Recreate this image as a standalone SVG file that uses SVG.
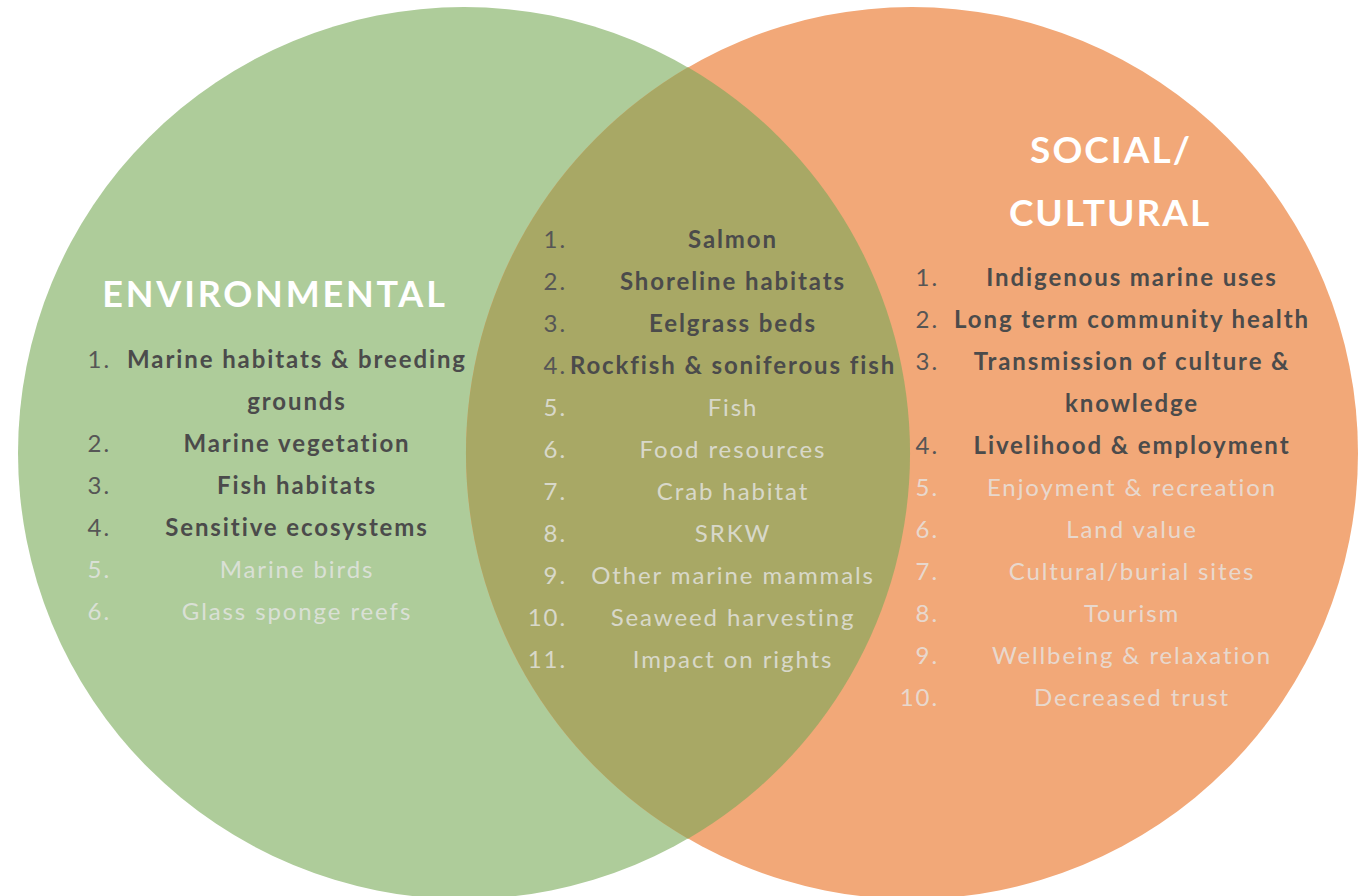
<svg xmlns="http://www.w3.org/2000/svg" width="1369" height="896" viewBox="0 0 1369 896">
<style>
.t{font-family:Lato,"Open Sans","Liberation Sans",sans-serif;font-size:24px;letter-spacing:1.9px}
.c{text-anchor:middle}
.n{text-anchor:end;font-weight:400}
.b{font-weight:700;fill:#4b4b4b}
.nd{fill:#565656}
.l{font-weight:400;fill:#e6e6e6;fill-opacity:0.8}
.h{font-family:Lato,"Open Sans","Liberation Sans",sans-serif;font-weight:700;fill:#ffffff;text-anchor:middle}
</style>
<rect width="1369" height="896" fill="#ffffff"/>
<g id="environmental">
<circle cx="464" cy="453" r="446" fill="#aecc9a"/>
</g>
<g id="social-cultural">
<circle cx="912" cy="453" r="446" fill="#f2a878"/>
</g>
<g id="overlap">
<path d="M688 67.3 A446 446 0 0 1 688 838.7 A446 446 0 0 1 688 67.3 Z" fill="#a8a865"/>
</g>
<g id="env-text">
<text class="h" x="275" y="307" font-size="36" letter-spacing="2.8">ENVIRONMENTAL</text>
<text class="t n nd" x="111" y="368">1.</text>
<text class="t c b" x="297" y="368">Marine habitats &amp; breeding</text>
<text class="t c b" x="297" y="410">grounds</text>
<text class="t n nd" x="111" y="452">2.</text>
<text class="t c b" x="297" y="452">Marine vegetation</text>
<text class="t n nd" x="111" y="494">3.</text>
<text class="t c b" x="297" y="494">Fish habitats</text>
<text class="t n nd" x="111" y="536">4.</text>
<text class="t c b" x="297" y="536">Sensitive ecosystems</text>
<text class="t n l" x="111" y="578">5.</text>
<text class="t c l" x="297" y="578">Marine birds</text>
<text class="t n l" x="111" y="620">6.</text>
<text class="t c l" x="297" y="620">Glass sponge reefs</text>
</g>
<g id="overlap-text">
<text class="t n nd" x="567" y="248">1.</text>
<text class="t c b" x="733" y="248">Salmon</text>
<text class="t n nd" x="567" y="290">2.</text>
<text class="t c b" x="733" y="290">Shoreline habitats</text>
<text class="t n nd" x="567" y="332">3.</text>
<text class="t c b" x="733" y="332">Eelgrass beds</text>
<text class="t n nd" x="567" y="374">4.</text>
<text class="t c b" x="733" y="374">Rockfish &amp; soniferous fish</text>
<text class="t n l" x="567" y="416">5.</text>
<text class="t c l" x="733" y="416">Fish</text>
<text class="t n l" x="567" y="458">6.</text>
<text class="t c l" x="733" y="458">Food resources</text>
<text class="t n l" x="567" y="500">7.</text>
<text class="t c l" x="733" y="500">Crab habitat</text>
<text class="t n l" x="567" y="542">8.</text>
<text class="t c l" x="733" y="542">SRKW</text>
<text class="t n l" x="567" y="584">9.</text>
<text class="t c l" x="733" y="584">Other marine mammals</text>
<text class="t n l" x="567" y="626">10.</text>
<text class="t c l" x="733" y="626">Seaweed harvesting</text>
<text class="t n l" x="567" y="668">11.</text>
<text class="t c l" x="733" y="668">Impact on rights</text>
</g>
<g id="social-text">
<text class="h" x="1111" y="163" font-size="37" letter-spacing="2">SOCIAL/</text>
<text class="h" x="1110" y="226" font-size="37" letter-spacing="2">CULTURAL</text>
<text class="t n nd" x="939" y="286">1.</text>
<text class="t c b" x="1132" y="286">Indigenous marine uses</text>
<text class="t n nd" x="939" y="328">2.</text>
<text class="t c b" x="1132" y="328">Long term community health</text>
<text class="t n nd" x="939" y="370">3.</text>
<text class="t c b" x="1132" y="370">Transmission of culture &amp;</text>
<text class="t c b" x="1132" y="412">knowledge</text>
<text class="t n nd" x="939" y="454">4.</text>
<text class="t c b" x="1132" y="454">Livelihood &amp; employment</text>
<text class="t n l" x="939" y="496">5.</text>
<text class="t c l" x="1132" y="496">Enjoyment &amp; recreation</text>
<text class="t n l" x="939" y="538">6.</text>
<text class="t c l" x="1132" y="538">Land value</text>
<text class="t n l" x="939" y="580">7.</text>
<text class="t c l" x="1132" y="580">Cultural/burial sites</text>
<text class="t n l" x="939" y="622">8.</text>
<text class="t c l" x="1132" y="622">Tourism</text>
<text class="t n l" x="939" y="664">9.</text>
<text class="t c l" x="1132" y="664">Wellbeing &amp; relaxation</text>
<text class="t n l" x="939" y="706">10.</text>
<text class="t c l" x="1132" y="706">Decreased trust</text>
</g>
</svg>
